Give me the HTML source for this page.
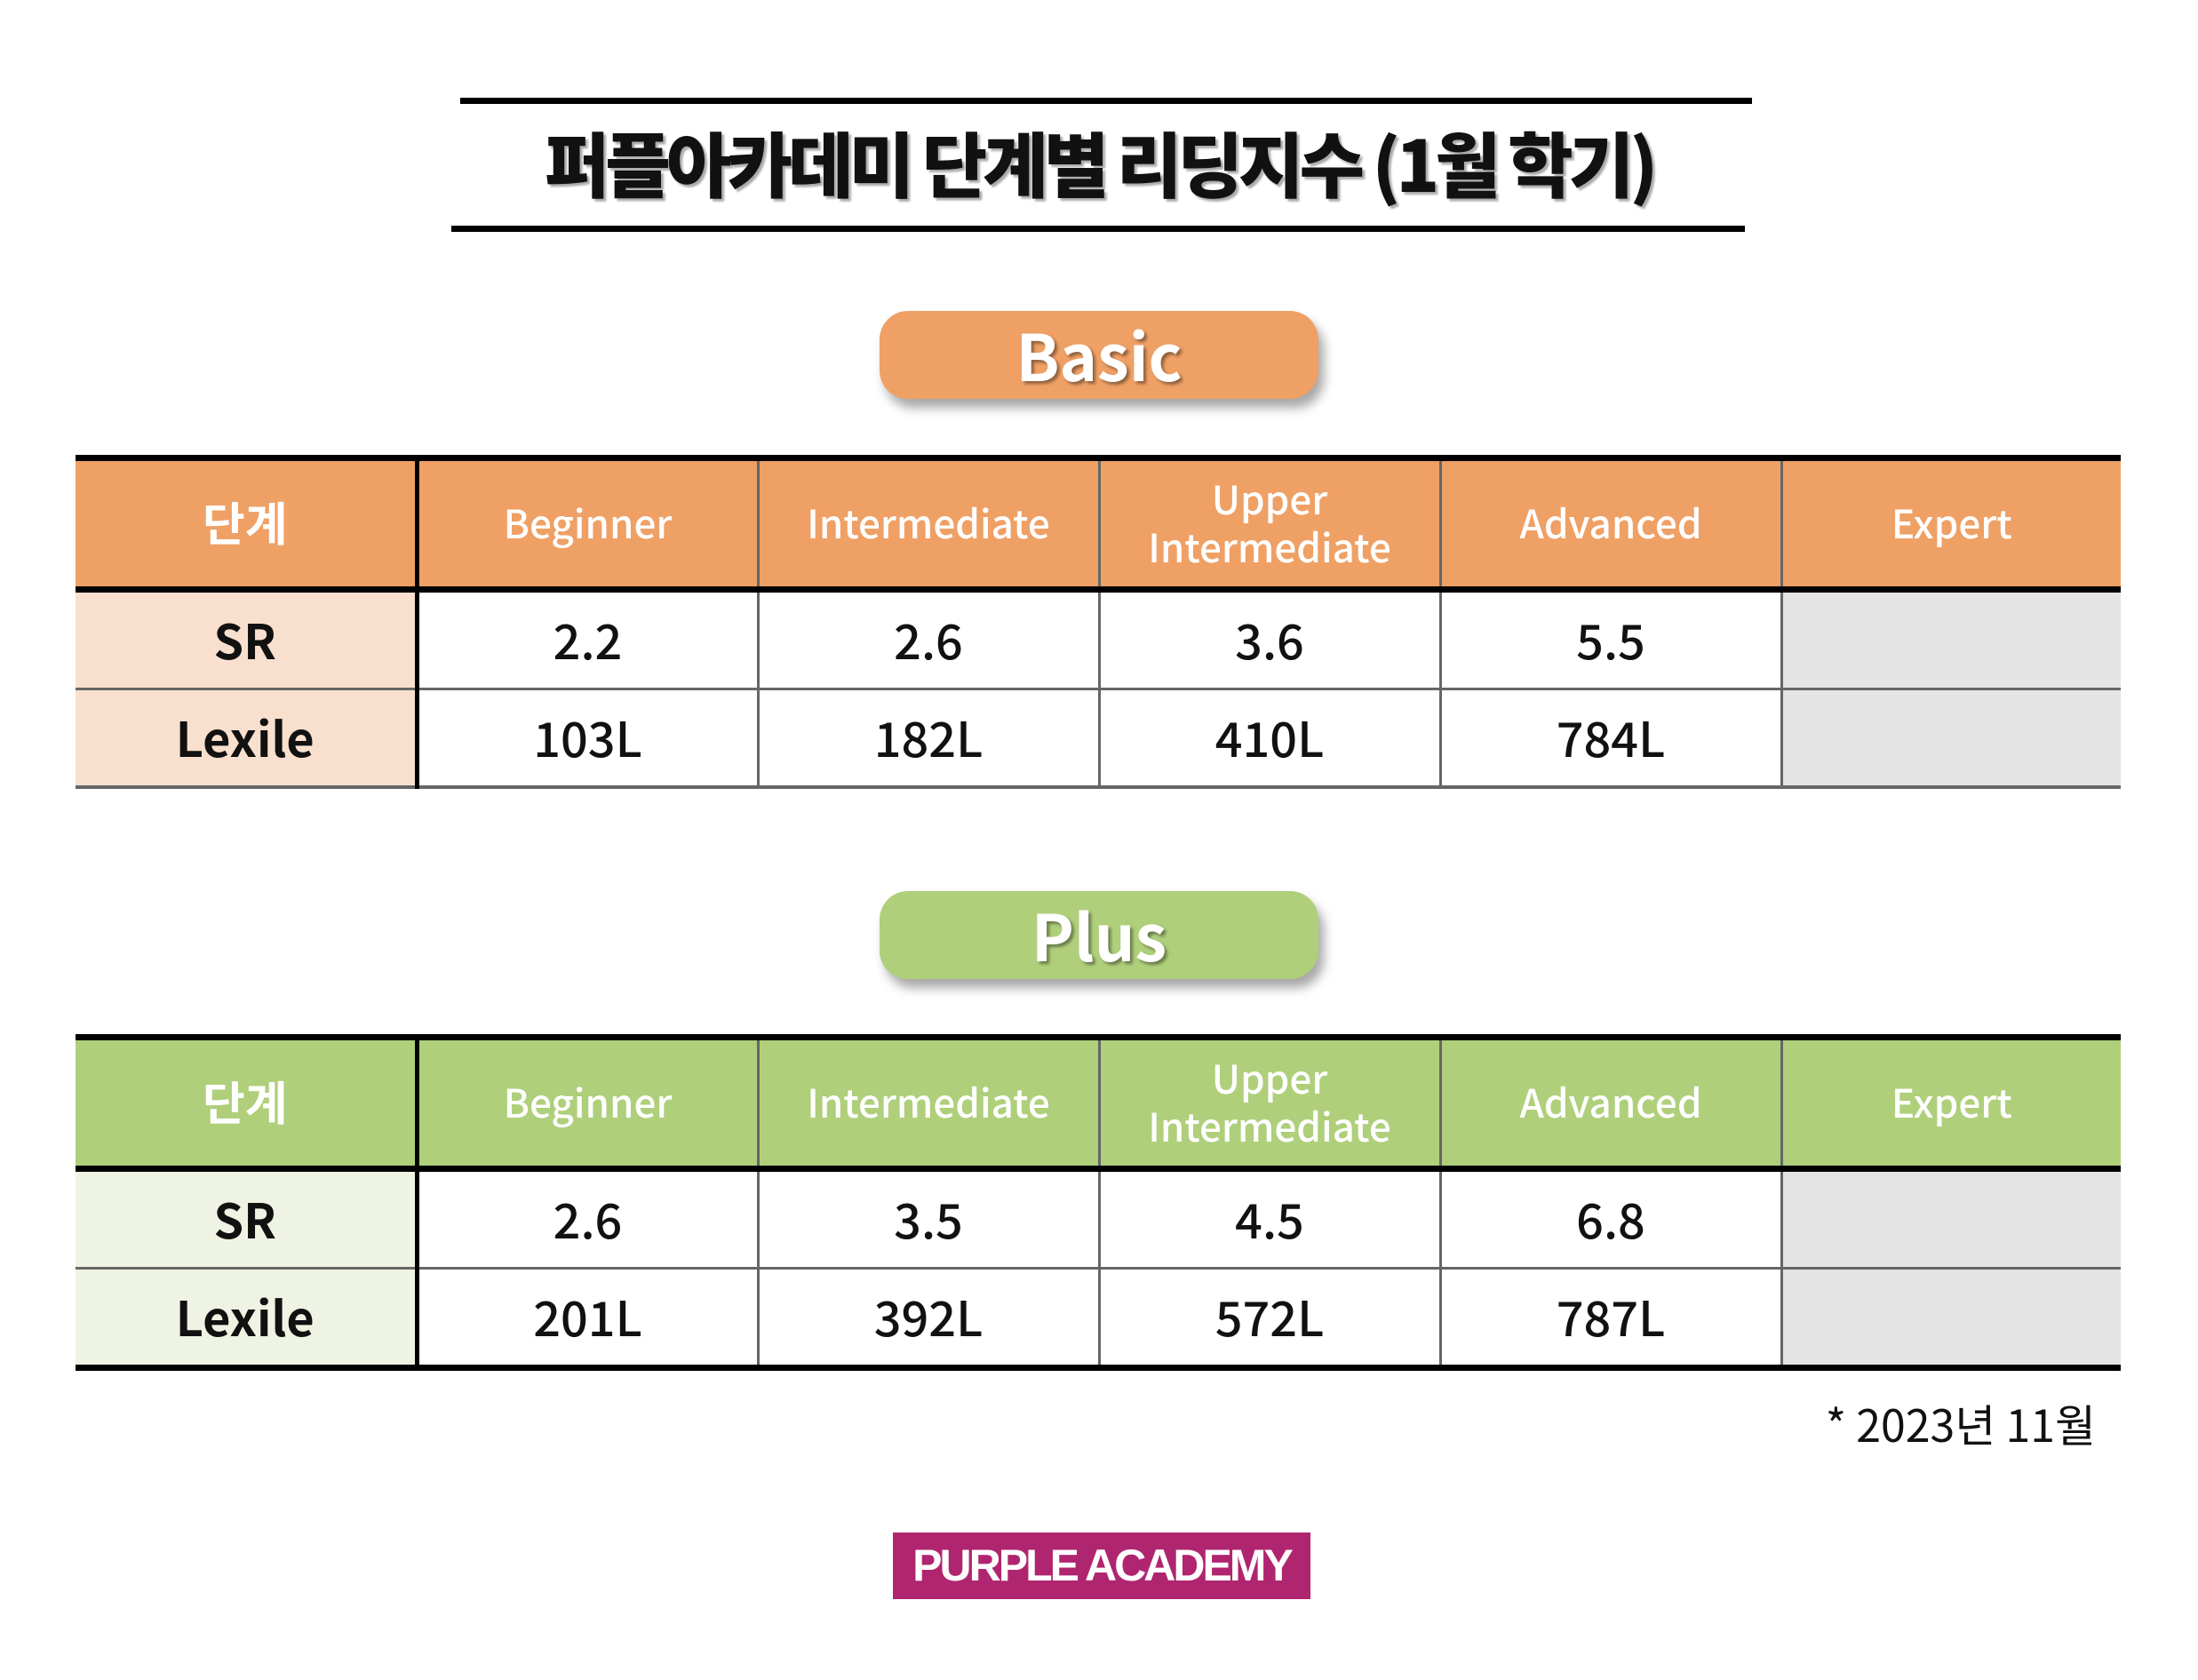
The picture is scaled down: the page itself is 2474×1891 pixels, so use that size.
<!DOCTYPE html>
<html><head><meta charset="utf-8"><style>
body{margin:0;width:2474px;height:1891px;background:#fff;position:relative;overflow:hidden;font-family:"Liberation Sans","Noto Sans CJK KR",sans-serif}
.a{position:absolute}
.line{position:absolute;background:#000;height:7px}
.title{position:absolute;left:0;width:2474px;top:132px;text-align:center;font-family:"Noto Sans CJK KR",sans-serif;font-weight:900;font-size:80px;letter-spacing:-5px;color:#111;text-shadow:3px 3px 2px #aaa;line-height:100px}
.pill{position:absolute;left:990px;width:494px;height:99px;border-radius:32px;color:#fff;font-weight:bold;font-size:72px;text-align:center;line-height:95px;box-shadow:6px 10px 12px rgba(0,0,0,.35);text-shadow:3px 3px 3px rgba(0,0,0,.4);font-family:"Noto Sans CJK KR",sans-serif}
table{position:absolute;left:85px;width:2302px;border-collapse:collapse;table-layout:fixed;font-family:"Noto Sans CJK KR","Liberation Sans",sans-serif}
td{text-align:center;padding:0;border-left:3px solid #666;border-top:3px solid #666}
td:first-child{border-left:none;border-right:5px solid #000}
tr.h td{height:135px;color:#fff;font-size:44px;line-height:54px;font-weight:500;padding-bottom:6px}
tr.h td:first-child{font-size:52px;font-weight:bold}
tr.r td{height:103px;font-size:54px;font-weight:500;color:#111;padding-bottom:4px}
tr.r td:first-child{font-weight:bold}
tr.r1 td{border-top:7px solid #000}
td.g{background:#e4e4e4}
</style></head><body>
<div class="line" style="left:518px;width:1454px;top:110px"></div>
<div class="line" style="left:508px;width:1456px;top:254px"></div>
<div class="title">퍼플아카데미 단계별 리딩지수 (1월 학기)</div>

<div class="pill" style="top:350px;background:#EFA065">Basic</div>
<table style="top:512px;border-top:7px solid #000;border-bottom:4px solid #666">
<colgroup><col style="width:384px"><col style="width:384px"><col style="width:384px"><col style="width:384px"><col style="width:384px"><col style="width:382px"></colgroup>
<tr class="h" style="background:#EFA065"><td style="border-top:none">단계</td><td style="border-top:none">Beginner</td><td style="border-top:none">Intermediate</td><td style="border-top:none">Upper<br>Intermediate</td><td style="border-top:none">Advanced</td><td style="border-top:none">Expert</td></tr>
<tr class="r r1"><td style="background:#F9E0CE">SR</td><td>2.2</td><td>2.6</td><td>3.6</td><td>5.5</td><td class="g"></td></tr>
<tr class="r"><td style="background:#F9E0CE">Lexile</td><td>103L</td><td>182L</td><td>410L</td><td>784L</td><td class="g"></td></tr>
</table>

<div class="pill" style="top:1003px;background:#AFCF7B">Plus</div>
<table style="top:1164px;border-top:7px solid #000;border-bottom:7px solid #000">
<colgroup><col style="width:384px"><col style="width:384px"><col style="width:384px"><col style="width:384px"><col style="width:384px"><col style="width:382px"></colgroup>
<tr class="h" style="background:#AFCF7B"><td style="border-top:none">단계</td><td style="border-top:none">Beginner</td><td style="border-top:none">Intermediate</td><td style="border-top:none">Upper<br>Intermediate</td><td style="border-top:none">Advanced</td><td style="border-top:none">Expert</td></tr>
<tr class="r r1"><td style="background:#EEF3E3">SR</td><td>2.6</td><td>3.5</td><td>4.5</td><td>6.8</td><td class="g"></td></tr>
<tr class="r"><td style="background:#EEF3E3">Lexile</td><td>201L</td><td>392L</td><td>572L</td><td>787L</td><td class="g"></td></tr>
</table>

<div class="a" style="right:115px;top:1570px;font-size:50px;color:#111;font-family:'Noto Sans CJK KR',sans-serif;line-height:64px">* 2023년 11월</div>
<div class="a" style="left:1005px;top:1725px;width:470px;height:75px;background:#B0256F;color:#fff;font-weight:bold;font-size:50px;line-height:75px;text-align:center;letter-spacing:-3px">PURPLE ACADEMY</div>
</body></html>
